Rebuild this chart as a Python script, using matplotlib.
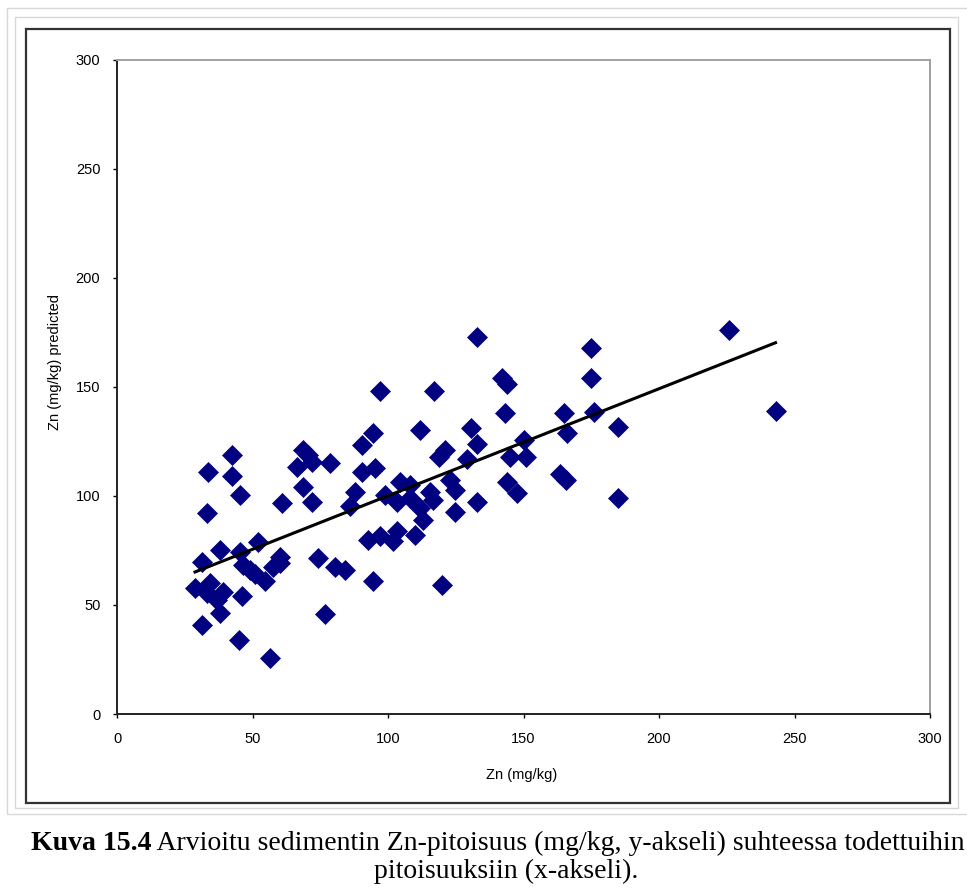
import numpy as np
import matplotlib.pyplot as plt
from matplotlib.patches import Rectangle

# Mitattu Zn (mg/kg) ja mallin ennustama Zn (mg/kg)
zn_measured = [226, 243, 175, 175, 176, 165, 185, 166, 163.5, 165.5, 185,
               133, 142, 144, 143, 150, 145, 151, 144, 147.5,
               130.5, 132.7, 129, 121, 119, 123, 124.7, 132.7, 124.7,
               117, 97, 111.8, 90.3, 94.6, 78.6, 90.3, 95.2, 87.8, 86, 98.9,
               104.4, 108.1, 103.2, 108.1, 115.5, 116.7, 111.8, 113, 110,
               92.7, 97, 103.2, 102, 94.5, 120, 84, 80.5, 76.8, 74.3,
               42.3, 33.7, 42.5, 45.4, 60.8, 33.3, 68.5, 70.5, 66.3, 72,
               68.7, 71.8, 52.1, 38, 45.4, 60.1, 31.3, 46.6, 57.7, 60.1,
               54.6, 51, 49, 28.8, 33.1, 36.8, 38, 46, 34.3, 39.2,
               31.3, 45.1, 56.5]
zn_predicted = [176, 139, 168, 154, 138.5, 138, 131.5, 129, 110, 107.5, 99,
                173, 154, 151.5, 138, 125.5, 118, 118, 106.5, 101.5,
                131, 124, 117, 121, 118, 107.3, 102.8, 97.4, 92.8,
                148, 148, 130.3, 123.4, 128.8, 115, 111.2, 112.7, 102, 95.5, 100.5,
                106.5, 105, 97.4, 98.9, 102, 98.2, 94.3, 89, 82.1,
                80, 81.5, 84, 79.5, 61, 59, 66, 67.5, 46, 71.5,
                118.8, 110.9, 109.3, 100.5, 96.7, 92.3, 121, 119, 113.4, 115.5,
                104.3, 97.4, 79, 75.2, 74.4, 72.2, 69.5, 68.3, 67.6, 69.1,
                61, 64, 66, 57.7, 55.4, 52.3, 46.5, 54, 60, 56,
                40.8, 33.9, 25.5]

# trendiviivan kerroin ja vakio (luettu kuvasta)
trend_slope = 0.491
trend_intercept = 51.0

x_ticks = [0, 50, 100, 150, 200, 250, 300]
y_ticks = [0, 50, 100, 150, 200, 250, 300]

W, H = 967, 894
fig = plt.figure(figsize=(W / 100, H / 100), dpi=100)
plt.rcParams['font.family'] = ['Liberation Sans', 'DejaVu Sans']

def px_rect(x0, y0, x1, y1, **kw):
    r = Rectangle((x0 / W, 1 - y1 / H), (x1 - x0) / W, (y1 - y0) / H,
                  transform=fig.transFigure, fill=False, **kw)
    fig.add_artist(r)

# kehykset
px_rect(7, 8, 970, 814, lw=1, edgecolor='#d8d8d8')
px_rect(15, 17, 958, 808, lw=1, edgecolor='#d8d8d8')
px_rect(26, 29, 950, 803, lw=1.6, edgecolor='#333333')

ax = fig.add_axes([117 / W, 1 - 714 / H, (930 - 117) / W, (714 - 60) / H])

x = np.array(zn_measured)
y = np.array(zn_predicted)
ax.plot(x, y, 'D', ms=10.5, color='#000080', mec='#000080', mew=0.5, zorder=3)

# lineaarinen trendiviiva datan x-välillä
xl = np.array([x.min(), x.max()])
ax.plot(xl, trend_slope * xl + trend_intercept, color='black', lw=2.2, zorder=4)

ax.set_xlim(0, 300)
ax.set_ylim(0, 300)
ax.set_xticks(x_ticks)
ax.set_yticks(y_ticks)
ax.tick_params(axis='x', direction='out', length=3, width=1, pad=10, labelsize=10.5)
ax.tick_params(axis='y', direction='out', length=3, width=1, pad=9, labelsize=10.5)
for s in ['left', 'bottom']:
    ax.spines[s].set_color('#222222')
    ax.spines[s].set_linewidth(1.4)
for s in ['top', 'right']:
    ax.spines[s].set_color('#a0a0a0')
    ax.spines[s].set_linewidth(1.4)

ax.set_xlabel('Zn (mg/kg)', fontsize=10.5)
ax.set_ylabel('Zn (mg/kg) predicted', fontsize=10.5)
ax.xaxis.set_label_coords(0.498, -0.083)
ax.yaxis.set_label_coords(-0.068, 0.538)

# kuvateksti
fs = 20
t1 = fig.text(0, 1 - 843 / H, 'Kuva 15.4', fontsize=fs, fontweight='bold',
              family='Liberation Serif', va='center', ha='left')
t2 = fig.text(0, 1 - 843 / H, ' Arvioitu sedimentin Zn-pitoisuus (mg/kg, y-akseli) suhteessa todettuihin',
              fontsize=fs, family='Liberation Serif', va='center', ha='left')
r = fig.canvas.get_renderer()
w1 = t1.get_window_extent(r).width
w2 = t2.get_window_extent(r).width
x0 = 498 - (w1 + w2) / 2
t1.set_x(x0 / W)
t2.set_x((x0 + w1) / W)
fig.text(506 / W, 1 - 871 / H, 'pitoisuuksiin (x-akseli).', fontsize=fs,
         family='Liberation Serif', va='center', ha='center')

plt.savefig('out.png', dpi=100)
